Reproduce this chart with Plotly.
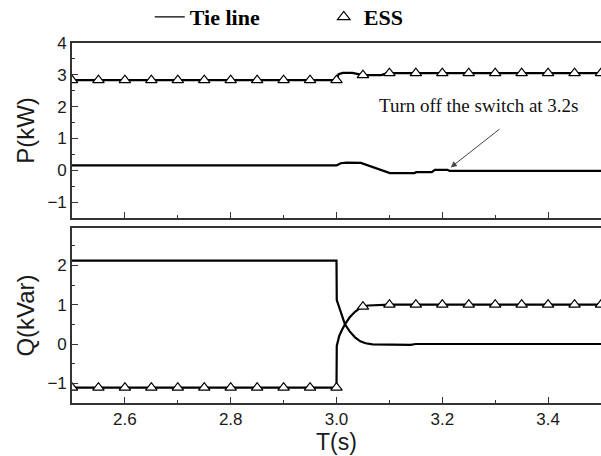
import plotly.graph_objects as go
from plotly.subplots import make_subplots

# ---- data ----
# Active power P (kW)
tie_p_t = [2.5, 3.0, 3.008, 3.019, 3.046, 3.065, 3.085, 3.101, 3.147, 3.151, 3.18, 3.186, 3.21, 3.214, 3.5]
tie_p_v = [0.15, 0.15, 0.22, 0.24, 0.23, 0.12, 0.0, -0.09, -0.09, -0.06, -0.06, 0.01, 0.01, -0.02, -0.02]
ess_p_t = [2.5, 3.0, 3.004, 3.012, 3.03, 3.045, 3.05, 3.085, 3.095, 3.5]
ess_p_v = [2.83, 2.83, 3.02, 3.06, 3.06, 3.0, 2.99, 2.99, 3.05, 3.05]

# Reactive power Q (kVar)
tie_q_t = [2.5, 3.0, 3.0005, 3.005, 3.01, 3.016, 3.025, 3.035, 3.045, 3.055, 3.068, 3.1, 3.14, 3.15, 3.2, 3.22, 3.5]
tie_q_v = [2.12, 2.12, 1.12, 0.95, 0.76, 0.5, 0.32, 0.17, 0.07, 0.02, -0.01, -0.02, -0.02, 0.0, 0.01, 0.0, 0.0]
ess_q_t = [2.5, 3.0, 3.0005, 3.005, 3.01, 3.016, 3.025, 3.035, 3.045, 3.05, 3.06, 3.1, 3.5]
ess_q_v = [-1.11, -1.11, -0.05, 0.2, 0.35, 0.5, 0.68, 0.82, 0.92, 0.95, 0.98, 1.0, 1.0]

# ESS marker samples (every 0.05 s)
mark_t = [2.5, 2.55, 2.6, 2.65, 2.7, 2.75, 2.8, 2.85, 2.9, 2.95, 3.0,
          3.05, 3.1, 3.15, 3.2, 3.25, 3.3, 3.35, 3.4, 3.45, 3.5]
mark_p = [2.83] * 11 + [2.99, 3.05, 3.05, 3.05, 3.05, 3.05, 3.05, 3.05, 3.05, 3.05]
mark_q = [-1.11] * 11 + [0.95, 1.0, 1.0, 1.0, 1.0, 1.0, 1.0, 1.0, 1.0, 1.0]

x_ticks = [2.6, 2.8, 3.0, 3.2, 3.4]
x_tick_labels = ["2.6", "2.8", "3.0", "3.2", "3.4"]
p_ticks = [-1, 0, 1, 2, 3, 4]
q_ticks = [-1, 0, 1, 2, 3]

legend_names = ["<b>Tie line</b>", "<b>ESS</b>"]
annot_text = "Turn off the switch at 3.2s"

# ---- figure ----
fig = make_subplots(rows=2, cols=1, shared_xaxes=False, vertical_spacing=0.028)

line_style = dict(color="black", width=2.2)
marker_style = dict(symbol="triangle-up", size=10, color="white",
                    line=dict(color="black", width=1.2))

# legend-only entries (thin legend line like the reference)
fig.add_trace(go.Scatter(x=[None], y=[None], mode="lines",
                         line=dict(color="black", width=1.3),
                         name=legend_names[0], showlegend=True), row=1, col=1)
fig.add_trace(go.Scatter(x=[None], y=[None], mode="markers",
                         marker=dict(symbol="triangle-up-open", size=11, color="black",
                                     line=dict(width=1.2)),
                         name=legend_names[1], showlegend=True), row=1, col=1)

fig.add_trace(go.Scatter(x=tie_p_t, y=tie_p_v, mode="lines", line=line_style,
                         showlegend=False), row=1, col=1)
fig.add_trace(go.Scatter(x=ess_p_t, y=ess_p_v, mode="lines", line=line_style,
                         showlegend=False), row=1, col=1)
fig.add_trace(go.Scatter(x=mark_t, y=mark_p, mode="markers", marker=marker_style,
                         showlegend=False), row=1, col=1)

fig.add_trace(go.Scatter(x=tie_q_t, y=tie_q_v, mode="lines", line=line_style,
                         showlegend=False), row=2, col=1)
fig.add_trace(go.Scatter(x=ess_q_t, y=ess_q_v, mode="lines", line=line_style,
                         showlegend=False), row=2, col=1)
fig.add_trace(go.Scatter(x=mark_t, y=mark_q, mode="markers", marker=marker_style,
                         showlegend=False), row=2, col=1)

axis_font = dict(family="Liberation Sans, Arial, sans-serif", size=17, color="#1a1a1a")
ytitle_font = dict(family="Liberation Sans, Arial, sans-serif", size=24, color="#1a1a1a")
xtitle_font = dict(family="Liberation Sans, Arial, sans-serif", size=23, color="#1a1a1a")

xcommon = dict(range=[2.5, 3.5], showline=True, linecolor="#333", linewidth=1.6,
               mirror=True, ticks="inside", ticklen=6, tickwidth=1.3, tickcolor="#333",
               tickvals=x_ticks, ticktext=x_tick_labels, showgrid=False, zeroline=False,
               minor=dict(dtick=0.1, tick0=2.5, ticks="inside", ticklen=3, tickwidth=1.2,
                          tickcolor="#333", showgrid=False),
               tickfont=axis_font)
fig.update_xaxes(**xcommon, showticklabels=False, row=1, col=1)
fig.update_xaxes(**xcommon, showticklabels=True,
                 title=dict(text="T(s)", font=xtitle_font, standoff=1), row=2, col=1)

ycommon = dict(showline=True, linecolor="#333", linewidth=1.6, mirror=False,
               ticks="inside", ticklen=6, tickwidth=1.3, tickcolor="#333",
               showgrid=False, zeroline=False, tickfont=axis_font,
               minor=dict(dtick=0.5, ticks="inside", ticklen=3, tickwidth=1.2,
                          tickcolor="#333", showgrid=False))
fig.update_yaxes(**ycommon, range=[-1.5, 4], tickvals=p_ticks,
                 title=dict(text="P(kW)", font=ytitle_font, standoff=6), row=1, col=1)
fig.update_yaxes(**ycommon, range=[-1.5, 2.95], tickvals=q_ticks,
                 title=dict(text="Q(kVar)", font=ytitle_font, standoff=6), row=2, col=1)

fig.add_annotation(x=3.216, y=0.09, ax=3.311, ay=1.33, xref="x", yref="y",
                   axref="x", ayref="y", text="", showarrow=True,
                   arrowhead=2, arrowsize=1.2, arrowwidth=1.0, arrowcolor="#444")
fig.add_annotation(x=3.5, y=2.05, xref="x", yref="y", text=annot_text,
                   showarrow=False, xanchor="right", yanchor="middle", xshift=-20,
                   font=dict(family="Liberation Serif, Times New Roman, serif", size=19,
                             color="#111"))

fig.update_layout(
    width=601, height=456,
    margin=dict(l=72, r=0, t=43, b=53, autoexpand=False),
    paper_bgcolor="white", plot_bgcolor="white",
    legend=dict(orientation="h", x=0.147, xanchor="left", y=1.072, yanchor="middle",
                font=dict(family="Liberation Serif, Times New Roman, serif", size=22,
                          color="black"),
                entrywidth=129, entrywidthmode="pixels",
                bgcolor="rgba(0,0,0,0)", borderwidth=0, tracegroupgap=0),
)
fig.update_yaxes(domain=[0.514, 1.0], row=1, col=1)
fig.update_yaxes(domain=[0.0, 0.486], row=2, col=1)

fig.write_html("out.html")
